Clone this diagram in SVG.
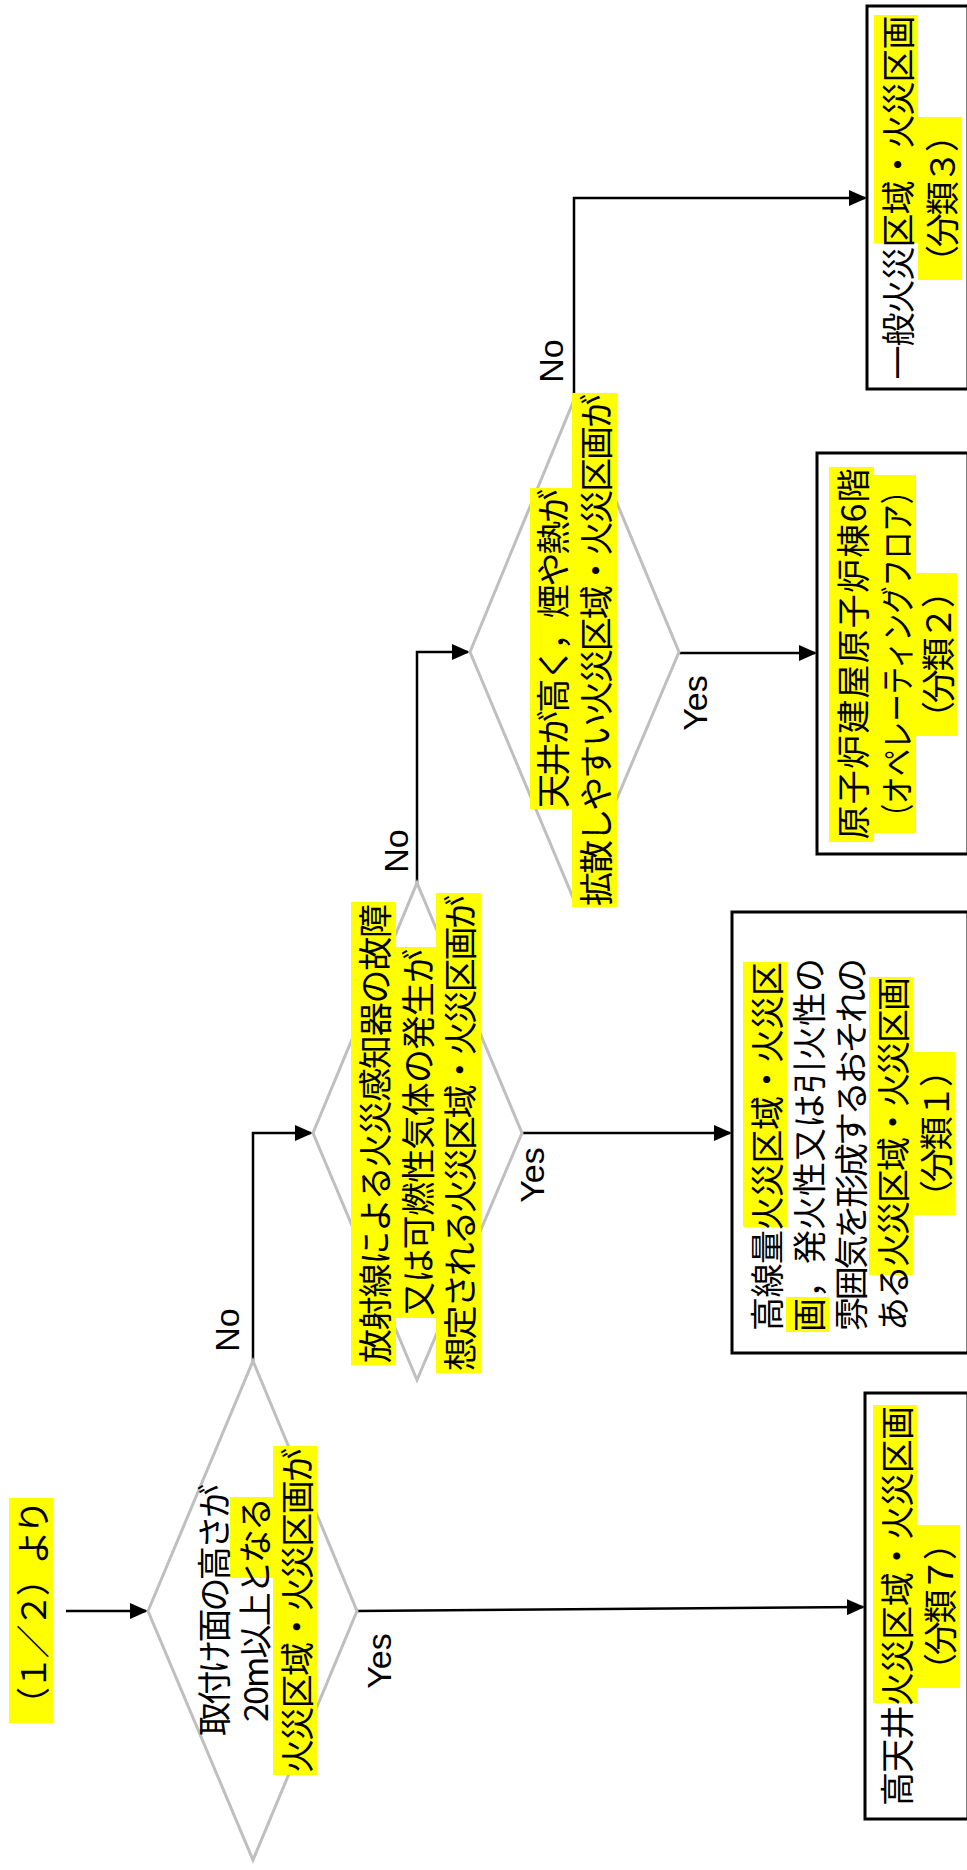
<svg xmlns="http://www.w3.org/2000/svg" width="967" height="1870" viewBox="0 0 967 1870">
<style>
.jp{font-family:"Noto Sans CJK JP","Noto Sans CJK SC",sans-serif;font-size:34px;fill:#000;text-anchor:middle;dominant-baseline:central}
.yn{font-family:"Liberation Sans",Arial,sans-serif;font-size:34px;fill:#000;text-anchor:middle;dominant-baseline:central}
.hl{fill:#ffff00}
.dia{fill:none;stroke:#bfbfbf;stroke-width:3}
.box{fill:#fff;stroke:#000;stroke-width:3}
.con{fill:none;stroke:#000;stroke-width:2.5;marker-end:url(#arr)}
</style>
<defs>
<marker id="arr" markerUnits="userSpaceOnUse" markerWidth="18" markerHeight="16" refX="16" refY="8" orient="auto">
<path d="M0,0 L18,8 L0,16 z" fill="#000"/>
</marker>
</defs>
<rect width="967" height="1870" fill="#fff"/>

<g id="connectors">
<path class="con" d="M66,1611 L146,1611"/>
<path class="con" d="M357,1611 L863,1607"/>
<path class="con" d="M253,1361 L253,1133 L311,1133"/>
<path class="con" d="M522,1133 L730,1133"/>
<path class="con" d="M417,883 L417,652 L468,652"/>
<path class="con" d="M679,653 L815,653"/>
<path class="con" d="M574,400 L574,198 L865,198"/>
<text class="yn" transform="translate(227,1330) rotate(-90)">No</text>
<text class="yn" transform="translate(379,1661) rotate(-90)">Yes</text>
<text class="yn" transform="translate(396,851) rotate(-90)">No</text>
<text class="yn" transform="translate(532,1175) rotate(-90)">Yes</text>
<text class="yn" transform="translate(551,361) rotate(-90)">No</text>
<text class="yn" transform="translate(695,703) rotate(-90)">Yes</text>
</g>

<g id="start">
<rect class="hl" x="9" y="1498" width="44" height="225"/>
<text class="jp" transform="translate(31,1610.5) rotate(-90)" textLength="221">（１／２）より</text>
</g>

<g id="d1">
<polygon class="dia" points="148,1611 253,1361 357,1611 253,1860"/>
<rect class="hl" x="230" y="1497" width="43" height="81"/>
<rect class="hl" x="273" y="1446" width="44" height="329"/>
<text class="jp" transform="translate(212,1610) rotate(-90)" textLength="252">取付け面の高さが</text>
<text class="jp" transform="translate(253,1609.5) rotate(-90)" textLength="225">20m以上となる</text>
<text class="jp" transform="translate(295,1610.5) rotate(-90)" textLength="325">火災区域・火災区画が</text>
</g>

<g id="d2">
<polygon class="dia" points="313,1133 417,883 522,1133 417,1380"/>
<rect class="hl" x="351" y="902" width="45" height="463"/>
<rect class="hl" x="396" y="947" width="40" height="371"/>
<rect class="hl" x="436" y="893" width="45" height="480"/>
<text class="jp" transform="translate(373.5,1133.5) rotate(-90)" textLength="459">放射線による火災感知器の故障</text>
<text class="jp" transform="translate(416,1132.5) rotate(-90)" textLength="367">又は可燃性気体の発生が</text>
<text class="jp" transform="translate(458.5,1133) rotate(-90)" textLength="476">想定される火災区域・火災区画が</text>
</g>

<g id="d3">
<polygon class="dia" points="470,652 574,400 679,652 574,900"/>
<rect class="hl" x="530" y="488" width="42" height="321"/>
<rect class="hl" x="572" y="393" width="45" height="514"/>
<text class="jp" transform="translate(551,648.5) rotate(-90)" textLength="319">天井が高く，煙や熱が</text>
<text class="jp" transform="translate(594.5,650) rotate(-90)" textLength="512">拡散しやすい火災区域・火災区画が</text>
</g>

<g id="box1">
<rect class="box" x="732" y="912" width="236" height="441"/>
<rect class="hl" x="743" y="962" width="44" height="265"/>
<rect class="hl" x="786" y="1297" width="43" height="35"/>
<rect class="hl" x="869" y="977" width="44" height="298"/>
<rect class="hl" x="913" y="1052" width="42" height="163"/>
<text class="jp" transform="translate(765,1146.5) rotate(-90)" textLength="369">高線量火災区域・火災区</text>
<text class="jp" transform="translate(807,1145) rotate(-90)" textLength="374">画，発火性又は引火性の</text>
<text class="jp" transform="translate(849,1144.5) rotate(-90)" textLength="373">雰囲気を形成するおそれの</text>
<text class="jp" transform="translate(891,1154) rotate(-90)" textLength="354">ある火災区域・火災区画</text>
<text class="jp" transform="translate(934,1133.5) rotate(-90)" textLength="161">（分類１）</text>
</g>

<g id="box2">
<rect class="box" x="817" y="453" width="151" height="401"/>
<rect class="hl" x="829" y="467" width="45" height="375"/>
<rect class="hl" x="874" y="475" width="42" height="358"/>
<rect class="hl" x="916" y="573" width="41" height="163"/>
<text class="jp" transform="translate(851.5,654) rotate(-90)" textLength="371">原子炉建屋原子炉棟6階</text>
<text class="jp" transform="translate(895,654) rotate(-90)" textLength="354" lengthAdjust="spacingAndGlyphs">（オペレーティングフロア）</text>
<text class="jp" transform="translate(936.5,654.5) rotate(-90)" textLength="161">（分類２）</text>
</g>

<g id="box3">
<rect class="box" x="867" y="6" width="101" height="383"/>
<rect class="hl" x="874" y="15" width="44" height="228"/>
<rect class="hl" x="918" y="117" width="44" height="163"/>
<text class="jp" transform="translate(896,197.5) rotate(-90)" textLength="364">一般火災区域・火災区画</text>
<text class="jp" transform="translate(940,198.5) rotate(-90)" textLength="161">（分類３）</text>
</g>

<g id="box7">
<rect class="box" x="865" y="1393" width="103" height="426"/>
<rect class="hl" x="873" y="1405" width="44" height="298"/>
<rect class="hl" x="917" y="1525" width="43" height="163"/>
<text class="jp" transform="translate(895,1606) rotate(-90)" textLength="400">高天井火災区域・火災区画</text>
<text class="jp" transform="translate(938.5,1606.5) rotate(-90)" textLength="161">（分類７）</text>
</g>
</svg>
